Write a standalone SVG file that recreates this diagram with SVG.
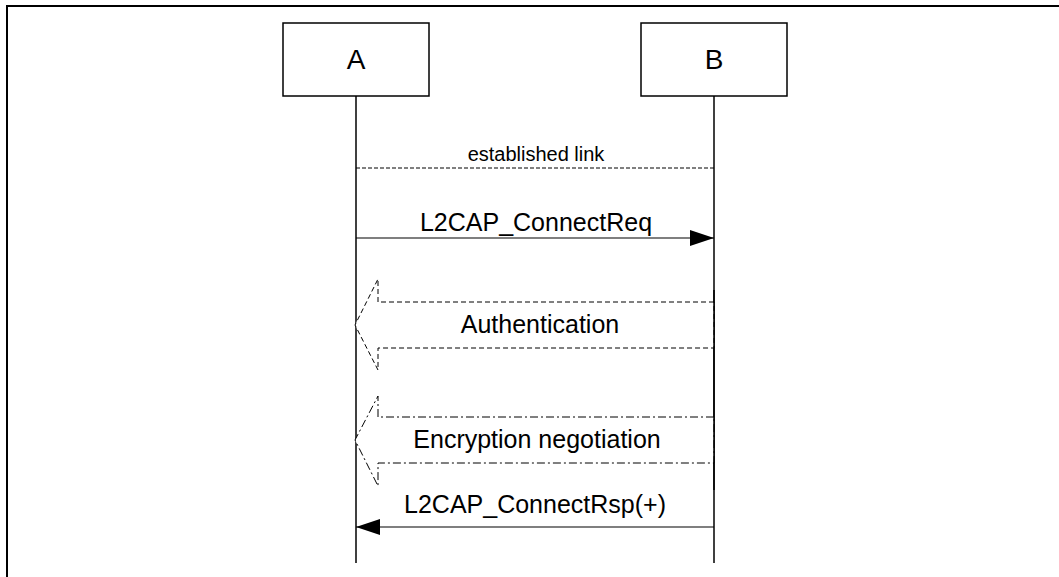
<svg xmlns="http://www.w3.org/2000/svg" width="1059" height="577" viewBox="0 0 1059 577">
  <style>
    text { font-family: "Liberation Sans", Arial, sans-serif; fill: #000; text-anchor: middle; }
    .node-box { fill: #fff; stroke: #000; stroke-width: 1.5; }
    .node-label { font-size: 28px; }
    .lifeline { stroke: #000; stroke-width: 1.5; fill: none; }
    .msg { stroke: #000; stroke-width: 1.2; fill: none; }
    .msg-label { font-size: 25px; }
    .small-label { font-size: 20px; }
    .dashed { stroke: #000; stroke-width: 1; fill: none; stroke-dasharray: 4 2; }
    .block-dashed { stroke: #000; stroke-width: 1; fill: #fff; stroke-dasharray: 5 3; }
    .block-dashdot { stroke: #000; stroke-width: 1; fill: #fff; stroke-dasharray: 8 3 2 3; }
  </style>
  <defs>
    <marker id="arrow" viewBox="0 0 24 16" refX="24" refY="8" markerWidth="24" markerHeight="16" markerUnits="userSpaceOnUse" orient="auto">
      <path d="M0,0 L24,8 L0,16 Z" fill="#000"/>
    </marker>
  </defs>

  <rect width="1059" height="577" fill="#fff"/>
  <!-- outer frame -->
  <path d="M7,577 V6 H1059" fill="none" stroke="#000" stroke-width="2"/>

  <g id="node-A">
    <rect class="node-box" x="283" y="23" width="146" height="73"/>
    <text class="node-label" x="356" y="69">A</text>
    <line class="lifeline" x1="356" y1="96" x2="356" y2="563"/>
  </g>
  <g id="node-B">
    <rect class="node-box" x="641" y="23" width="146" height="73"/>
    <text class="node-label" x="714" y="69">B</text>
    <line class="lifeline" x1="714" y1="96" x2="714" y2="563"/>
  </g>

  <g id="connectors">
    <g id="established-link">
      <line class="dashed" x1="356" y1="168" x2="714" y2="168"/>
      <text class="small-label" x="536" y="161">established link</text>
    </g>
    <g id="connect-req">
      <line class="msg" x1="356" y1="238" x2="714" y2="238" marker-end="url(#arrow)"/>
      <text class="msg-label" x="536" y="231">L2CAP_ConnectReq</text>
    </g>
    <g id="authentication">
      <polygon class="block-dashed" points="714,302 378,302 378,279 355,325 378,370 378,348 714,348"/>
      <text class="msg-label" x="540" y="333">Authentication</text>
    </g>
    <g id="encryption">
      <polygon class="block-dashdot" points="714,417 378,417 378,396 355,440 378,486 378,463 714,463"/>
      <text class="msg-label" x="537" y="448">Encryption negotiation</text>
    </g>
    <g id="connect-rsp">
      <line class="msg" x1="714" y1="527" x2="356" y2="527" marker-end="url(#arrow)"/>
      <text class="msg-label" x="535" y="513">L2CAP_ConnectRsp(+)</text>
    </g>
  </g>
  <!-- redraw lifeline B over block arrows -->
  <line class="lifeline" x1="714" y1="290" x2="714" y2="490"/>
</svg>
